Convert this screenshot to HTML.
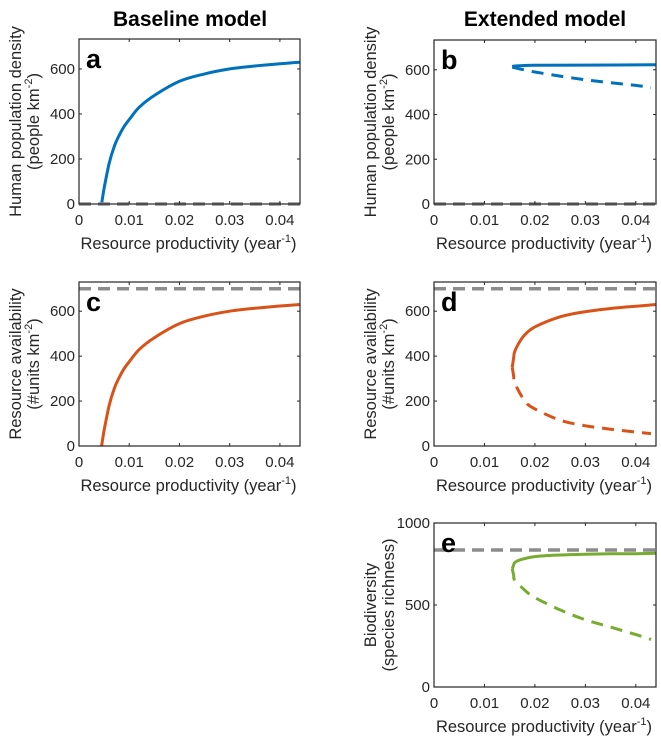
<!DOCTYPE html>
<html><head><meta charset="utf-8"><style>
body{margin:0;background:#fff;width:661px;height:739px;overflow:hidden}
svg{font-family:"Liberation Sans",Arial,sans-serif}
</style></head><body>
<svg id="fig" width="661" height="739">
<text x="190" y="26" text-anchor="middle" font-size="21" font-weight="bold">Baseline model</text>
<text x="545" y="26" text-anchor="middle" font-size="21" font-weight="bold">Extended model</text>
</svg>
<script>
const xTicks=[0,0.01,0.02,0.03,0.04];
const xTickLabels=["0","0.01","0.02","0.03","0.04"];
const xMax=0.044;
const popTicks=[0,200,400,600];
const bioTicks=[0,500,1000];
// panel a
const aX=[0.0045,0.005,0.006,0.007,0.008,0.009,0.01,0.012,0.015,0.02,0.025,0.03,0.035,0.04,0.044];
const aY=[0,70,180,255,305,345,375,430,482,545,578,600,613,623,630];
// panel b
const bSolidX=[0.0155,0.016,0.017,0.02,0.03,0.044];
const bSolidY=[614,617,618,620,621,622];
const bDashX=[0.0155,0.02,0.03,0.04,0.043];
const bDashY=[612,590,555,530,520];
// panel c
const cX=[0.0045,0.005,0.006,0.007,0.008,0.009,0.01,0.012,0.015,0.02,0.025,0.03,0.035,0.04,0.044];
const cY=[0,70,180,255,305,345,375,430,482,545,578,600,613,623,630];
// panel d
const dSolidX=[0.0155,0.0158,0.016,0.017,0.018,0.02,0.025,0.03,0.035,0.04,0.044];
const dSolidY=[350,395,420,465,495,530,575,598,612,622,630];
const dDashX=[0.0155,0.0158,0.016,0.018,0.02,0.025,0.03,0.035,0.04,0.043];
const dDashY=[350,310,280,200,165,115,90,75,62,55];
// panel e
const eSolidX=[0.0155,0.0158,0.016,0.017,0.02,0.025,0.03,0.035,0.04,0.044];
const eSolidY=[720,745,758,775,795,805,810,812,813,815];
const eDashX=[0.0155,0.0158,0.016,0.018,0.02,0.025,0.03,0.035,0.04,0.043];
const eDashY=[720,680,652,590,545,470,410,365,320,290];
const refA=0, refC=700, refE=835;

const NS="http://www.w3.org/2000/svg";
const svg=document.getElementById('fig');
function mk(t,a,p){const e=document.createElementNS(NS,t);for(const k in a)e.setAttribute(k,a[k]);(p||svg).appendChild(e);return e;}
function smooth(P){
  let d='M'+P[0][0].toFixed(1)+' '+P[0][1].toFixed(1);
  for(let i=0;i<P.length-1;i++){
    const p0=P[i-1]||P[i],p1=P[i],p2=P[i+1],p3=P[i+2]||P[i+1];
    const c1=[p1[0]+(p2[0]-p0[0])/6,p1[1]+(p2[1]-p0[1])/6];
    const c2=[p2[0]-(p3[0]-p1[0])/6,p2[1]-(p3[1]-p1[1])/6];
    d+=' C'+c1.map(v=>v.toFixed(1)).join(' ')+' '+c2.map(v=>v.toFixed(1)).join(' ')+' '+p2.map(v=>v.toFixed(1)).join(' ');
  }
  return d;
}

function panel(name,L,T,W,H,yMax,yTicks,letter,ylab1,ylab2,sup2,series,ref){
  const g=mk('g',{});
  
  
  const sx=v=>L+v/xMax*W, sy=v=>T+H-v/yMax*H;
  series.forEach(s=>{
    const d=smooth(s.x.map((v,i)=>[sx(v),sy(s.y[i])]));
    const p=mk('path',{d:d,fill:'none',stroke:s.c,'stroke-width':3,'stroke-dasharray':s.dash?'12 8':'none','stroke-linejoin':'round'},g);
    
    
  });
  const r=mk('line',{x1:L,x2:L+W,y1:sy(ref),y2:sy(ref),stroke:'#8c8c8c','stroke-width':3.5,'stroke-dasharray':'12 7'},g);
  
  
  const box=mk('rect',{x:L,y:T,width:W,height:H,fill:'none',stroke:'#262626','stroke-width':1.2},g);
  
  
  xTicks.forEach((v,i)=>{
    mk('line',{x1:sx(v),x2:sx(v),y1:T+H,y2:T+H-3,stroke:'#262626'},g);
    mk('line',{x1:sx(v),x2:sx(v),y1:T,y2:T+3,stroke:'#262626'},g);
    const t=mk('text',{x:sx(v),y:T+H+21,'text-anchor':'middle','font-size':15,fill:'#262626'},g);
    t.textContent=xTickLabels[i];
    
    
  });
  yTicks.forEach(v=>{
    mk('line',{x1:L,x2:L+3,y1:sy(v),y2:sy(v),stroke:'#262626'},g);
    mk('line',{x1:L+W,x2:L+W-3,y1:sy(v),y2:sy(v),stroke:'#262626'},g);
    const t=mk('text',{x:L-4,y:sy(v)+5,'text-anchor':'end','font-size':15,fill:'#262626'},g);
    t.textContent=v;
    
    
  });
  const xl=mk('text',{x:L+W/2-1,y:T+H+45,'text-anchor':'middle','font-size':16.5,fill:'#262626'},g);
  xl.innerHTML='Resource productivity (year<tspan dy="-7" font-size="11">-1</tspan><tspan dy="7">)</tspan>';
  
  
  const cy=T+H/2;
  const y1=mk('text',{x:0,y:0,'text-anchor':'middle','font-size':16.5,fill:'#262626',transform:`translate(${L-58},${cy}) rotate(-90)`},g);
  y1.textContent=ylab1;
  
  
  const y2=mk('text',{x:0,y:0,'text-anchor':'middle','font-size':16.5,fill:'#262626',transform:`translate(${L-40},${cy}) rotate(-90)`},g);
  y2.innerHTML=sup2?ylab2+'<tspan dy="-7" font-size="11">-2</tspan><tspan dy="7">)</tspan>':ylab2;
  
  
  const lt=mk('text',{x:L+7,y:T+29,'font-size':27,'font-weight':'bold',fill:'#000'},g);
  lt.textContent=letter;
  
  
}
const blue='#0072bd',red='#d95319',green='#77ac30';
panel('a',79,39,221,165,733,popTicks,'a','Human population density','(people km',true,
  [{x:aX,y:aY,c:blue,n:'population-curve'}],refA);
panel('b',434,40,222,164,733,popTicks,'b','Human population density','(people km',true,
  [{x:bSolidX,y:bSolidY,c:blue,n:'population-stable-branch'},{x:bDashX,y:bDashY,c:blue,dash:1,n:'population-unstable-branch'}],refA);
panel('c',79,282,221,164,730,popTicks,'c','Resource availability','(#units km',true,
  [{x:cX,y:cY,c:red,n:'resource-curve'}],refC);
panel('d',434,282,222,164,730,popTicks,'d','Resource availability','(#units km',true,
  [{x:dSolidX,y:dSolidY,c:red,n:'resource-stable-branch'},{x:dDashX,y:dDashY,c:red,dash:1,n:'resource-unstable-branch'}],refC);
panel('e',434,523,222,164,1000,bioTicks,'e','Biodiversity','(species richness)',false,
  [{x:eSolidX,y:eSolidY,c:green,n:'biodiversity-stable-branch'},{x:eDashX,y:eDashY,c:green,dash:1,n:'biodiversity-unstable-branch'}],refE);
</script>
</body></html>
